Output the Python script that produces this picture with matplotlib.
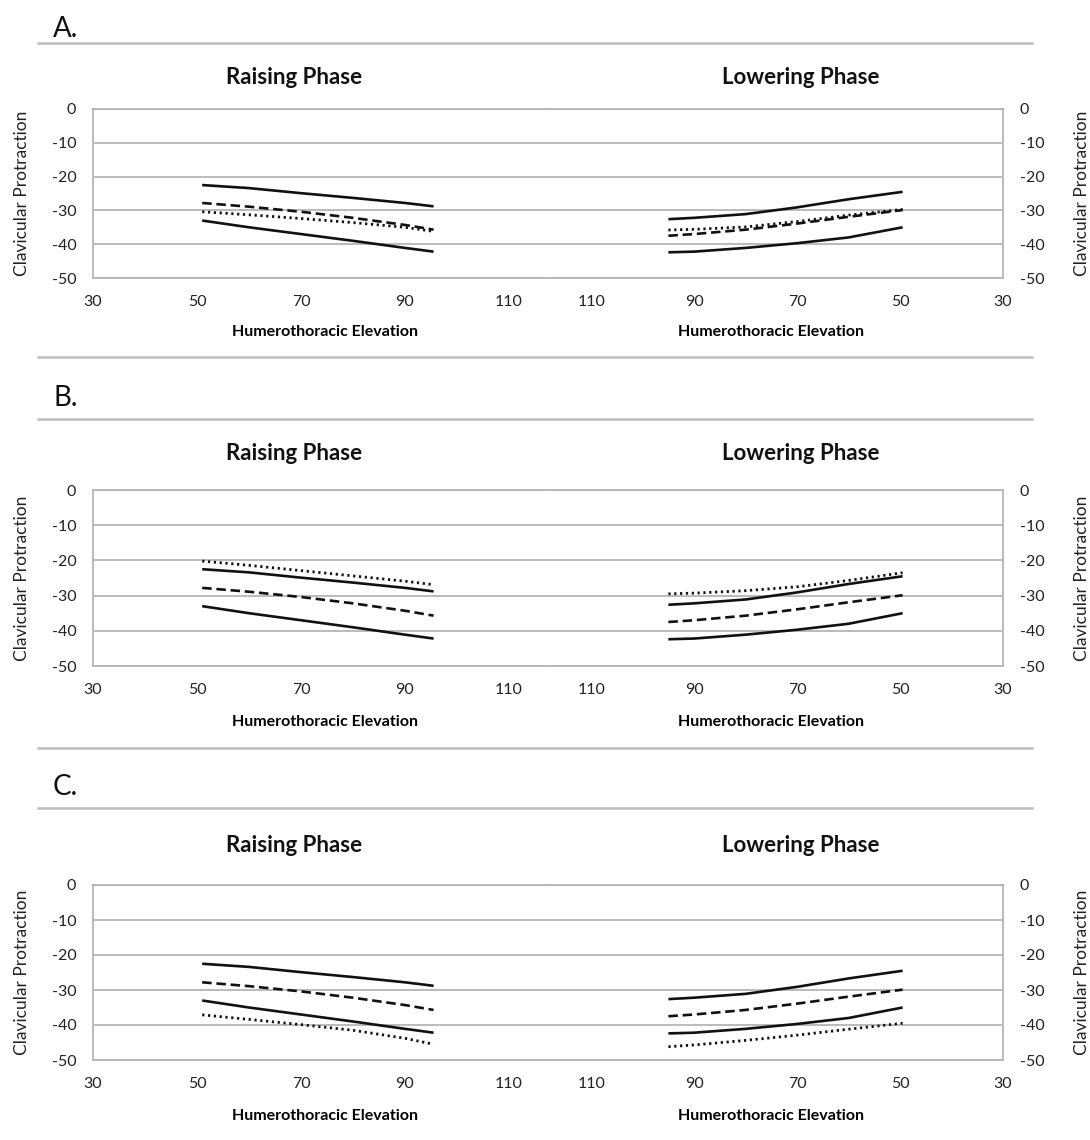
import matplotlib
matplotlib.use("Agg")
import matplotlib.pyplot as plt
from matplotlib.lines import Line2D

plt.rcParams['font.family'] = ['Lato', 'DejaVu Sans']
plt.rcParams['axes.unicode_minus'] = False

# x positions of the points (degrees of humerothoracic elevation)
raise_x = [51, 60, 70, 80, 90, 95.5]
lower_x = [95, 90, 80, 70, 60, 49.5]

# reference band: upper solid, dashed mean, lower solid (same in every panel)
raise_upper = [-22.5, -23.4, -24.9, -26.3, -27.8, -28.8]
raise_mean = [-27.8, -28.9, -30.4, -32.2, -34.3, -35.7]
raise_lower = [-33.0, -35.0, -37.0, -39.0, -41.1, -42.2]
lower_upper = [-32.6, -32.2, -31.1, -29.1, -26.7, -24.5]
lower_mean = [-37.5, -37.0, -35.7, -33.9, -31.9, -29.9]
lower_lower = [-42.4, -42.2, -41.1, -39.7, -38.0, -35.0]

# dotted curve, one per panel
raise_dotted_A = [-30.4, -31.3, -32.4, -33.6, -35.0, -36.2]
lower_dotted_A = [-35.8, -35.6, -34.9, -33.3, -31.4, -29.7]
raise_dotted_B = [-20.2, -21.4, -22.9, -24.4, -25.9, -26.9]
lower_dotted_B = [-29.5, -29.3, -28.6, -27.5, -25.7, -23.5]
raise_dotted_C = [-37.1, -38.4, -39.9, -41.5, -43.8, -45.5]
lower_dotted_C = [-46.2, -45.7, -44.4, -42.9, -41.2, -39.5]

panel_letters = ["A.", "B.", "C."]
x_ticks = [30, 50, 70, 90, 110]
y_ticks = [0, -10, -20, -30, -40, -50]

W, H = 1090, 1140
fig = plt.figure(figsize=(W / 100, H / 100), dpi=100)


def box(x0, y0, x1, y1):
    return [x0 / W, 1 - y1 / H, (x1 - x0) / W, (y1 - y0) / H]


def hline(y):
    fig.add_artist(Line2D([38 / W, 1032 / W], [1 - y / H, 1 - y / H],
                          color="#bdbdbd", lw=1.8))


# pixel layout of each panel: letter y, top rule, title y, box top, box bottom, bottom rule
layout = [
    (29, 43, 77, 109, 278, 357),
    (398, 419, 454, 490, 666, 748),
    (787, 808, 846, 885, 1060, None),
]
dotted = [(raise_dotted_A, lower_dotted_A),
          (raise_dotted_B, lower_dotted_B),
          (raise_dotted_C, lower_dotted_C)]

grid_col = "#b5b5b5"
solid = dict(color="#111111", lw=1.9, solid_capstyle="butt")
dash = dict(color="#111111", lw=1.9, linestyle=(0, (3.6, 1.8)))
dot = dict(color="#111111", lw=2.0, linestyle=(0, (0.8, 1.3)))

for i, (ly, top_rule, title_y, y0, y1, bot_rule) in enumerate(layout):
    fig.text(53 / W, 1 - ly / H, panel_letters[i], fontsize=20, va="center", ha="left",
             color="#111111")
    hline(top_rule)
    if bot_rule is not None:
        hline(bot_rule)

    ax_l = fig.add_axes(box(93, y0, 550, y1))
    ax_r = fig.add_axes(box(550, y0, 1003, y1))

    ax_l.plot(raise_x, raise_upper, **solid)
    ax_l.plot(raise_x, raise_lower, **solid)
    ax_l.plot(raise_x, raise_mean, **dash)
    ax_l.plot(raise_x, dotted[i][0], **dot)

    ax_r.plot(lower_x, lower_upper, **solid)
    ax_r.plot(lower_x, lower_lower, **solid)
    ax_r.plot(lower_x, lower_mean, **dash)
    ax_r.plot(lower_x, dotted[i][1], **dot)

    ax_l.set_xlim(30, 117.9)
    ax_r.set_xlim(118.0, 30)
    for ax in (ax_l, ax_r):
        ax.set_ylim(-50, 0)
        ax.set_xticks(x_ticks)
        ax.set_yticks(y_ticks)
        ax.yaxis.grid(True, color=grid_col, lw=1.3)
        ax.set_axisbelow(True)
        ax.tick_params(length=0, labelsize=11.5, colors="#222222", pad=12)
        for s in ax.spines.values():
            s.set_color(grid_col)
            s.set_linewidth(1.3)
    ax_l.spines["right"].set_visible(False)
    ax_r.spines["left"].set_visible(False)
    ax_r.yaxis.tick_right()
    ax_r.tick_params(length=0, pad=12)

    ax_l.set_xlabel("Humerothoracic Elevation", fontsize=11.5, fontweight="bold")
    ax_r.set_xlabel("Humerothoracic Elevation", fontsize=11.5, fontweight="bold")
    ax_l.xaxis.set_label_coords((325 - 93) / 457, -0.28)
    ax_r.xaxis.set_label_coords((771 - 550) / 453, -0.28)

    fig.text(294 / W, 1 - title_y / H, "Raising Phase", fontsize=16,
             fontweight="bold", ha="center", va="center", color="#111111")
    fig.text(801 / W, 1 - title_y / H, "Lowering Phase", fontsize=16,
             fontweight="bold", ha="center", va="center", color="#111111")

    yc = 1 - (y0 + y1) / 2 / H
    fig.text(22 / W, yc, "Clavicular Protraction", rotation=90, fontsize=12.5,
             ha="center", va="center", color="#222222")
    fig.text(1082 / W, yc, "Clavicular Protraction", rotation=90, fontsize=12.5,
             ha="center", va="center", color="#222222")

fig.savefig("out.png", dpi=100)
